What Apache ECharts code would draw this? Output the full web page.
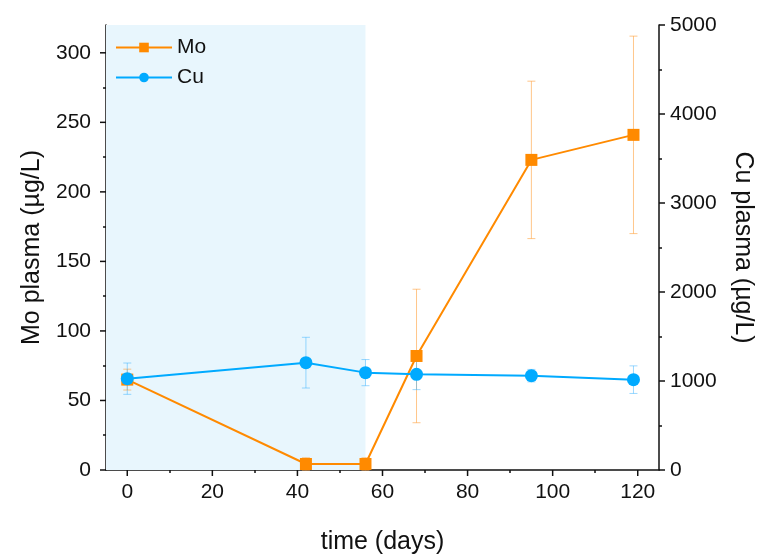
<!DOCTYPE html>
<html>
<head>
<meta charset="utf-8">
<script src="https://cdn.jsdelivr.net/npm/echarts@6/dist/echarts.min.js"></script>
<style>
  html, body { margin: 0; padding: 0; background: #fff; }
  #chart { width: 763px; height: 557px; }
</style>
</head>
<body>
<div id="chart"></div>
<script>
// time points (days)
const days = [0, 42, 56, 68, 95, 119];

// Mo plasma (µg/L), left axis
const moMean = [65, 4.3, 4.3, 82, 223, 241];
const moErr = [7.5, 4.5, 4.5, 48, 56.6, 71];

// Cu plasma (µg/L), right axis
const cuMean = [1026, 1206, 1094, 1075, 1060, 1015];
const cuErr = [176, 285, 147, 172, 70, 155];

// tick labels
const xLabels = [0, 20, 40, 60, 80, 100, 120];
const xMinor = [10, 30, 50, 70, 90, 110];
const moLabels = [0, 50, 100, 150, 200, 250, 300];
const moMinor = [25, 75, 125, 175, 225, 275];
const cuLabels = [0, 1000, 2000, 3000, 4000, 5000];
const cuMinor = [500, 1500, 2500, 3500, 4500];

// axis ranges
const X_MIN = -5, X_MAX = 125;
const MO_MAX = 320, CU_MAX = 5000;

// shaded period
const shadeFrom = -5;
const shadeTo = 56;

const MO_COLOR = '#FF8A00';
const CU_COLOR = '#00AAFF';
const INK = '#111';
const FONT = 'Liberation Sans, Arial, sans-serif';

const chart = echarts.init(document.getElementById('chart'), null, { renderer: 'canvas' });

const errorBars = (name, y, err, color, yAxisIndex) => ({
  type: 'custom',
  name: name,
  xAxisIndex: 0,
  yAxisIndex: yAxisIndex,
  z: 1,
  silent: true,
  data: days.map((d, i) => [d, y[i] - err[i], y[i] + err[i]]),
  encode: { x: 0, y: [1, 2] },
  renderItem: (params, api) => {
    const x = api.value(0);
    const lo = api.coord([x, api.value(1)]);
    const hi = api.coord([x, api.value(2)]);
    const hw = 4;
    const style = { stroke: color, lineWidth: 1 };
    return {
      type: 'group',
      children: [
        { type: 'line', shape: { x1: hi[0], y1: hi[1], x2: lo[0], y2: lo[1] }, style },
        { type: 'line', shape: { x1: hi[0] - hw, y1: hi[1], x2: hi[0] + hw, y2: hi[1] }, style },
        { type: 'line', shape: { x1: lo[0] - hw, y1: lo[1], x2: lo[0] + hw, y2: lo[1] }, style }
      ]
    };
  }
});

// major ticks drawn as short outward strokes at the axis values
const majorTicks = (side, values, len) => ({
  type: 'custom',
  xAxisIndex: 0,
  yAxisIndex: side === 'right' ? 1 : 0,
  silent: true,
  clip: false,
  z: 10,
  data: values.map(v => [v]),
  encode: side === 'x' ? { x: 0 } : { y: 0 },
  renderItem: (params, api) => {
    const v = api.value(0);
    const style = { stroke: INK, lineWidth: 1.5 };
    let p, shape;
    if (side === 'x') {
      p = api.coord([v, 0]);
      shape = { x1: p[0], y1: p[1], x2: p[0], y2: p[1] + len };
    } else if (side === 'left') {
      p = api.coord([X_MIN, v]);
      shape = { x1: p[0] - len, y1: p[1], x2: p[0], y2: p[1] };
    } else {
      p = api.coord([X_MAX, v]);
      shape = { x1: p[0], y1: p[1], x2: p[0] + len, y2: p[1] };
    }
    return { type: 'line', shape: shape, style: style };
  }
});

const tickStyle = { color: INK, width: 1.5 };
const nameStyle = { color: INK, fontSize: 25, fontFamily: FONT };

// helper axis that only draws the minor ticks
const tickAxis = (position, min, max, values, len) => ({
  type: 'value',
  position: position,
  min: min,
  max: max,
  axisLine: { show: false, onZero: false },
  splitLine: { show: false },
  axisLabel: { show: false },
  axisTick: { show: true, inside: false, length: len, customValues: values, lineStyle: tickStyle }
});

const mainAxis = (position, min, max, labels, margin, extra) => Object.assign({
  type: 'value',
  position: position,
  min: min,
  max: max,
  nameLocation: 'middle',
  nameTextStyle: nameStyle,
  axisLine: { show: true, onZero: false, lineStyle: tickStyle },
  splitLine: { show: false },
  axisTick: { show: false },
  axisLabel: {
    customValues: labels,
    margin: margin,
    color: INK,
    fontSize: 21,
    fontFamily: FONT,
    formatter: v => String(v)
  }
}, extra);

const option = {
  animation: false,
  backgroundColor: '#fff',
  grid: { left: 106, right: 104, top: 25, bottom: 87, outerBoundsMode: 'none' },
  legend: {
    data: ['Mo', 'Cu'],
    orient: 'vertical',
    left: 110,
    top: 32,
    itemWidth: 56,
    itemHeight: 12,
    itemGap: 9,
    textStyle: { color: INK, fontSize: 21, fontFamily: FONT }
  },
  xAxis: [
    mainAxis('bottom', X_MIN, X_MAX, xLabels, 12, { name: 'time (days)', nameGap: 60 }),
    tickAxis('bottom', X_MIN, X_MAX, xMinor, 3)
  ],
  yAxis: [
    mainAxis('left', 0, MO_MAX, moLabels, 15, { name: 'Mo plasma (µg/L)', nameGap: 53 }),
    mainAxis('right', 0, CU_MAX, cuLabels, 11, { name: 'Cu plasma (µg/L)', nameGap: 71, nameRotate: -90 }),
    tickAxis('left', 0, MO_MAX, moMinor, 3),
    tickAxis('right', 0, CU_MAX, cuMinor, 3)
  ],
  series: [
    errorBars('Mo err', moMean, moErr, 'rgba(255,160,60,0.6)', 0),
    errorBars('Cu err', cuMean, cuErr, 'rgba(60,180,255,0.5)', 1),
    majorTicks('x', xLabels, 6),
    majorTicks('left', moLabels, 6),
    majorTicks('right', cuLabels, 6),
    {
      name: 'Mo',
      type: 'line',
      yAxisIndex: 0,
      data: days.map((d, i) => [d, moMean[i]]),
      symbol: 'rect',
      symbolSize: 12,
      z: 3,
      lineStyle: { color: MO_COLOR, width: 2 },
      itemStyle: { color: MO_COLOR },
      markArea: {
        silent: true,
        itemStyle: { color: '#E8F6FD' },
        data: [[{ xAxis: shadeFrom }, { xAxis: shadeTo }]]
      }
    },
    {
      name: 'Cu',
      type: 'line',
      yAxisIndex: 1,
      data: days.map((d, i) => [d, cuMean[i]]),
      symbol: 'circle',
      symbolSize: 13,
      z: 4,
      lineStyle: { color: CU_COLOR, width: 2 },
      itemStyle: { color: CU_COLOR }
    }
  ]
};

chart.setOption(option);
</script>
</body>
</html>
